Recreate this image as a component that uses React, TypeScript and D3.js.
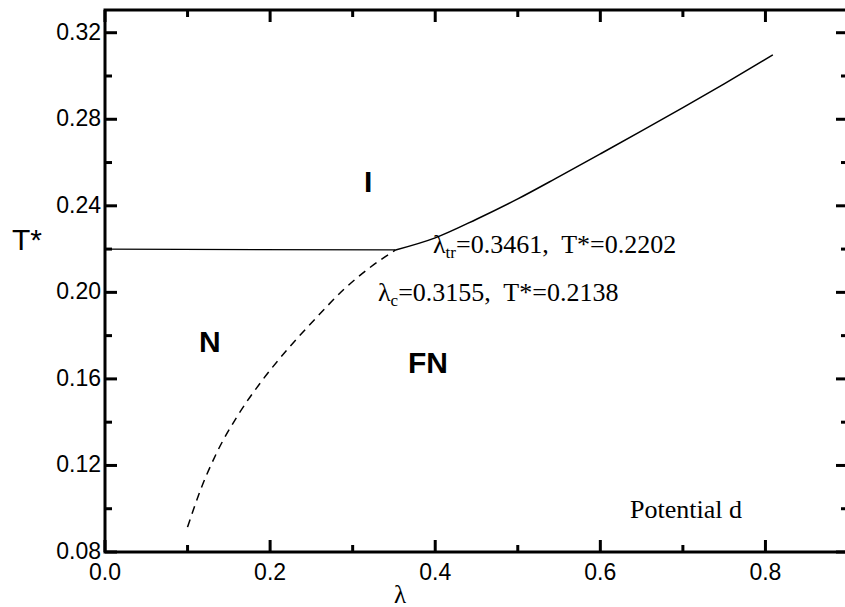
import React, { useEffect, useRef } from 'react';
import * as d3 from 'd3';

// phase boundaries
const isoNemLambda = [0.0, 0.352];
const isoNemT = [0.2200, 0.2196];

const nemFnLambda = [0.100, 0.115, 0.135, 0.160, 0.190, 0.220, 0.255, 0.290, 0.320, 0.352];
const nemFnT = [0.0915, 0.108, 0.1256, 0.1426, 0.1591, 0.1732, 0.1879, 0.2016, 0.2112, 0.2196];

const isoFnLambda = [0.352, 0.40, 0.45, 0.50, 0.55, 0.60, 0.65, 0.70, 0.75, 0.809];
const isoFnT = [0.2196, 0.2252, 0.2338, 0.2432, 0.2535, 0.2640, 0.2746, 0.2854, 0.2964, 0.3098];

const xTicks = [0.0, 0.2, 0.4, 0.6, 0.8];
const xMinorTicks = [0.1, 0.3, 0.5, 0.7];
const yTicks = [0.08, 0.12, 0.16, 0.20, 0.24, 0.28, 0.32];
const yMinorTicks = [0.10, 0.14, 0.18, 0.22, 0.26, 0.30];

function PhaseDiagram() {
  const ref = useRef(null);

  useEffect(() => {
    const svg = d3.select(ref.current);
    svg.selectAll('*').remove();

    const left = 105, right = 848, top = 10, bottom = 552;
    const x = d3.scaleLinear().domain([0, 0.9]).range([left, right]);
    const y = d3.scaleLinear().domain([0.08, 0.3305]).range([bottom, top]);

    const sans = 'Liberation Sans, Arial, sans-serif';
    const serif = 'Liberation Serif, Times New Roman, serif';

    // frame
    svg.append('rect')
      .attr('x', left).attr('y', top)
      .attr('width', right - left).attr('height', bottom - top)
      .attr('fill', 'none').attr('stroke', '#000').attr('stroke-width', 3);

    const g = svg.append('g').attr('stroke', '#000').attr('stroke-width', 3);

    // x ticks, bottom and top
    xTicks.forEach(v => {
      g.append('line').attr('x1', x(v)).attr('x2', x(v)).attr('y1', bottom).attr('y2', bottom - 12);
      g.append('line').attr('x1', x(v)).attr('x2', x(v)).attr('y1', top).attr('y2', top + 12);
    });
    xMinorTicks.forEach(v => {
      g.append('line').attr('x1', x(v)).attr('x2', x(v)).attr('y1', bottom).attr('y2', bottom - 7);
      g.append('line').attr('x1', x(v)).attr('x2', x(v)).attr('y1', top).attr('y2', top + 7);
    });
    // y ticks, left and right
    yTicks.forEach(v => {
      g.append('line').attr('x1', left).attr('x2', left + 12).attr('y1', y(v)).attr('y2', y(v));
      g.append('line').attr('x1', right).attr('x2', right - 12).attr('y1', y(v)).attr('y2', y(v));
    });
    yMinorTicks.forEach(v => {
      g.append('line').attr('x1', left).attr('x2', left + 7).attr('y1', y(v)).attr('y2', y(v));
      g.append('line').attr('x1', right).attr('x2', right - 7).attr('y1', y(v)).attr('y2', y(v));
    });

    // tick labels
    svg.append('g').selectAll('text').data(xTicks).join('text')
      .attr('x', d => x(d)).attr('y', 580)
      .attr('text-anchor', 'middle')
      .attr('font-family', sans).attr('font-size', 23)
      .text(d => d.toFixed(1));

    svg.append('g').selectAll('text').data(yTicks).join('text')
      .attr('x', 101).attr('y', d => y(d) + 7)
      .attr('text-anchor', 'end')
      .attr('font-family', sans).attr('font-size', 23)
      .text(d => d.toFixed(2));

    // axis titles
    svg.append('text').attr('x', 12).attr('y', 250)
      .attr('font-family', sans).attr('font-size', 30).text('T*');
    svg.append('text').attr('x', 400).attr('y', 603)
      .attr('text-anchor', 'middle')
      .attr('font-family', serif).attr('font-size', 25).text('λ');

    // boundaries
    const line = (xs, ys, curve) => d3.line()
      .x(d => x(d[0])).y(d => y(d[1]))
      .curve(curve)(xs.map((v, i) => [v, ys[i]]));

    svg.append('path').attr('d', line(isoNemLambda, isoNemT, d3.curveLinear))
      .attr('fill', 'none').attr('stroke', '#000').attr('stroke-width', 1.3);
    svg.append('path').attr('d', line(isoFnLambda, isoFnT, d3.curveMonotoneX))
      .attr('fill', 'none').attr('stroke', '#000').attr('stroke-width', 1.5);
    svg.append('path').attr('d', line(nemFnLambda, nemFnT, d3.curveMonotoneX))
      .attr('fill', 'none').attr('stroke', '#000').attr('stroke-width', 1.5)
      .attr('stroke-dasharray', '8,6');

    // phase labels
    const phase = (txt, px, py) => svg.append('text').attr('x', px).attr('y', py)
      .attr('font-family', sans).attr('font-weight', 'bold').attr('font-size', 30).text(txt);
    phase('I', 364, 192);
    phase('N', 199, 352);
    phase('FN', 408, 373);

    // annotations
    const note = (sub, rest, px, py) => {
      const t = svg.append('text').attr('x', px).attr('y', py)
        .attr('font-family', serif).attr('font-size', 26)
        .style('white-space', 'pre');
      t.append('tspan').text('λ');
      t.append('tspan').attr('font-size', 17).attr('dy', 5).text(sub);
      t.append('tspan').attr('dy', -5).text(rest);
    };
    note('tr', '=0.3461,  T*=0.2202', 433, 253);
    note('c', '=0.3155,  T*=0.2138', 378, 301);

    svg.append('text').attr('x', 630).attr('y', 518)
      .attr('font-family', serif).attr('font-size', 26).text('Potential d');
  }, []);

  return <svg ref={ref} width={845} height={607}
    style={{ position: 'absolute', left: 0, top: 0, background: '#fff' }} />;
}

export default function App() {
  return <PhaseDiagram />;
}
